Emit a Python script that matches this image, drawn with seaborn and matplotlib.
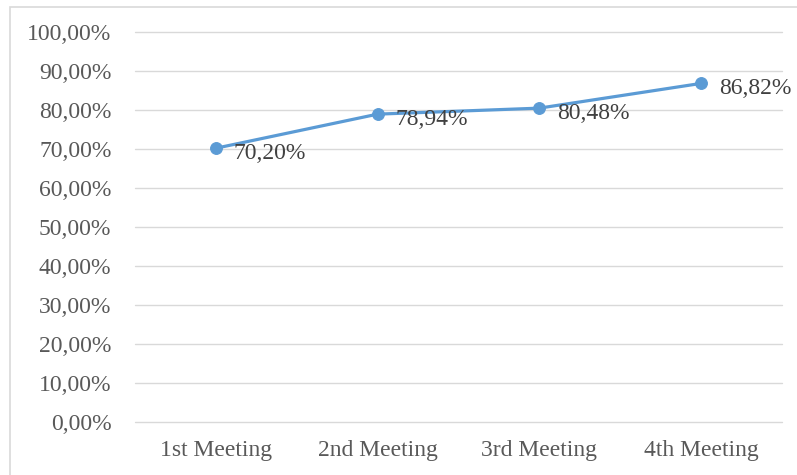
import matplotlib
matplotlib.use("Agg")
import matplotlib.pyplot as plt
import seaborn as sns
import pandas as pd
from matplotlib.patches import Rectangle
from matplotlib.ticker import FuncFormatter

meetings = ["1st Meeting", "2nd Meeting", "3rd Meeting", "4th Meeting"]
scores = [70.20, 78.94, 80.48, 86.82]
y_ticks = [0, 10, 20, 30, 40, 50, 60, 70, 80, 90, 100]

sns.set_theme(style="white")
plt.rcParams["font.family"] = ["Liberation Serif", "DejaVu Serif"]

df = pd.DataFrame({"meeting": meetings, "score": scores})

fig = plt.figure(figsize=(7.97, 4.75), dpi=100)
ax = fig.add_axes([0.1694, 0.1116, 0.8116, 0.821])

sns.lineplot(data=df, x="meeting", y="score", ax=ax, color="#5B9BD5",
             linewidth=2.3, marker="o", markersize=8.5,
             markeredgecolor="#5B9BD5", sort=False)

for i, v in enumerate(scores):
    ax.annotate(f"{v:.2f}%".replace(".", ","), (i, v), xytext=(13, -4),
                textcoords="offset points", ha="left", va="center",
                fontsize=17, color="#404040")

ax.set_xlim(-0.5, 3.5)
ax.set_ylim(0, 100)
ax.set_yticks(y_ticks)
ax.yaxis.set_major_formatter(FuncFormatter(lambda v, p: f"{v:.2f}%".replace(".", ",")))
ax.grid(axis="y", color="#d9d9d9", linewidth=1)
for gl in ax.get_ygridlines():
    gl.set_clip_on(False)
ax.set_axisbelow(True)
for s in ax.spines.values():
    s.set_visible(False)
ax.set_xlabel("")
ax.set_ylabel("")
ax.tick_params(axis="both", length=0, labelsize=17, labelcolor="#595959")
ax.tick_params(axis="y", pad=17)
ax.tick_params(axis="x", pad=13)

fig.patches.append(Rectangle((10 / 797, -0.1), 1.2, 1 - 7 / 475 + 0.1,
                             transform=fig.transFigure, fill=False,
                             edgecolor="#d9d9d9", linewidth=1.2))

fig.savefig("out.png", dpi=100)
